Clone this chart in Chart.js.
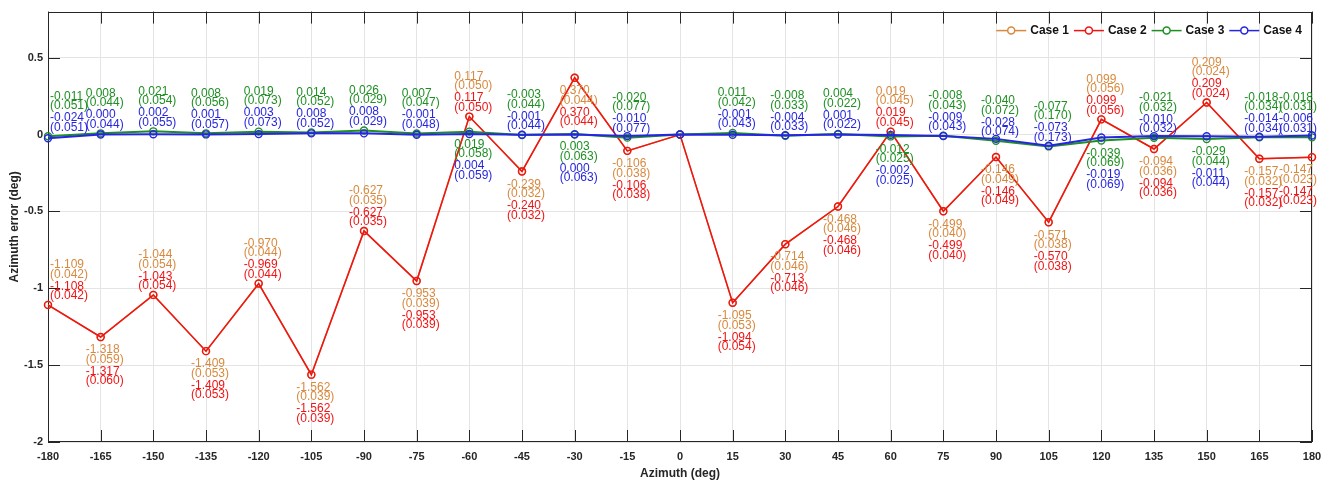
<!DOCTYPE html>
<html><head><meta charset="utf-8">
<script src="https://cdn.jsdelivr.net/npm/chart.js@4/dist/chart.umd.min.js"></script>
<style>html,body{margin:0;padding:0;background:#fff;}</style>
</head><body>
<canvas id="c" width="1336" height="485"></canvas>
<script>
const azimuth = [-180,-165,-150,-135,-120,-105,-90,-75,-60,-45,-30,-15,0,15,30,45,60,75,90,105,120,135,150,165,180];
const case1Mean = [-1.109,-1.318,-1.044,-1.409,-0.970,-1.562,-0.627,-0.953,0.117,-0.239,0.370,-0.106,0,-1.095,-0.714,-0.468,0.019,-0.499,-0.146,-0.571,0.099,-0.094,0.209,-0.157,-0.147];
const case1Std  = [0.042,0.059,0.054,0.053,0.044,0.039,0.035,0.039,0.050,0.032,0.044,0.038,null,0.053,0.046,0.046,0.045,0.040,0.049,0.038,0.056,0.036,0.024,0.032,0.023];
const case2Mean = [-1.108,-1.317,-1.043,-1.409,-0.969,-1.562,-0.627,-0.953,0.117,-0.240,0.370,-0.106,0,-1.094,-0.713,-0.468,0.019,-0.499,-0.146,-0.570,0.099,-0.094,0.209,-0.157,-0.147];
const case2Std  = [0.042,0.060,0.054,0.053,0.044,0.039,0.035,0.039,0.050,0.032,0.044,0.038,null,0.054,0.046,0.046,0.045,0.040,0.049,0.038,0.056,0.036,0.024,0.032,0.023];
const case3Mean = [-0.011,0.008,0.021,0.008,0.019,0.014,0.026,0.007,0.019,-0.003,0.003,-0.020,0,0.011,-0.008,0.004,-0.012,-0.008,-0.040,-0.077,-0.039,-0.021,-0.029,-0.018,-0.018];
const case3Std  = [0.051,0.044,0.054,0.056,0.073,0.052,0.029,0.047,0.058,0.044,0.063,0.077,null,0.042,0.033,0.022,0.025,0.043,0.072,0.170,0.069,0.032,0.044,0.034,0.031];
const case4Mean = [-0.024,0.000,0.002,0.001,0.003,0.008,0.008,-0.001,0.004,-0.001,0.000,-0.010,0,-0.001,-0.004,0.001,-0.002,-0.009,-0.028,-0.073,-0.019,-0.010,-0.011,-0.014,-0.006];
const case4Std  = [0.051,0.044,0.055,0.057,0.073,0.052,0.029,0.048,0.059,0.044,0.063,0.077,null,0.043,0.033,0.022,0.025,0.043,0.074,0.173,0.069,0.032,0.044,0.034,0.031];
const seriesNames = ['Case 1','Case 2','Case 3','Case 4'];
const yTicks = [-2,-1.5,-1,-0.5,0,0.5];

// label placement (1 = above the point, -1 = below, 0 = none)
const pairSide = [1,-1,1,-1,1,-1,1,-1,1,-1,-1,-1,0,-1,-1,-1,1,-1,-1,-1,1,-1,1,-1,-1];
const lowSide  = [1,1,1,1,1,1,1,1,-1,1,-1,1,0,1,1,1,-1,1,1,1,-1,1,-1,1,1];

const colors = ['#D8893E','#F01414','#1F8F24','#2626E0'];
const FONT = '"Liberation Sans", Arial, Helvetica, sans-serif';
const AX = '#262626';

const frame = {
  id:'frame',
  beforeDatasetsDraw(chart){
    const {ctx, chartArea:a, scales:{x,y}} = chart;
    ctx.save();
    ctx.strokeStyle = AX; ctx.lineWidth = 1;
    const tl = 12;
    ctx.beginPath();
    x.ticks.forEach(t=>{
      const px = Math.round(x.getPixelForValue(t.value))+0.5;
      ctx.moveTo(px,a.bottom); ctx.lineTo(px,a.bottom-tl);
      ctx.moveTo(px,a.top); ctx.lineTo(px,a.top+tl);
    });
    y.ticks.forEach(t=>{
      const py = Math.round(y.getPixelForValue(t.value))+0.5;
      ctx.moveTo(a.left,py); ctx.lineTo(a.left+tl,py);
      ctx.moveTo(a.right,py); ctx.lineTo(a.right-tl,py);
    });
    ctx.stroke();
    ctx.strokeRect(Math.round(a.left)+0.5, Math.round(a.top)+0.5, Math.round(a.width)-1, Math.round(a.height)-1);
    ctx.restore();
  }
};

const legendBox = {
  id:'legendBox',
  afterDatasetsDraw(chart){
    const {ctx, chartArea:a} = chart;
    ctx.save();
    ctx.font = 'bold 12px ' + FONT;
    ctx.textBaseline = 'middle'; ctx.textAlign = 'left';
    const yc = a.top + 19;
    let xr = a.right - 10;
    const ds = chart.data.datasets;
    for (let k = ds.length - 1; k >= 0; k--) {
      const w = ctx.measureText(ds[k].label).width;
      const tx = xr - w;
      const le = tx - 4, ls = le - 30;
      ctx.strokeStyle = ds[k].borderColor; ctx.lineWidth = 1.5;
      ctx.beginPath(); ctx.moveTo(ls, yc); ctx.lineTo(le, yc); ctx.stroke();
      ctx.beginPath(); ctx.arc((ls+le)/2, yc, 3.5, 0, Math.PI*2); ctx.fillStyle = '#fff'; ctx.fill(); ctx.stroke();
      ctx.fillStyle = '#111';
      ctx.fillText(ds[k].label, tx, yc);
      xr = ls - 5;
    }
    ctx.restore();
  }
};

const pointLabels = {
  id:'pointLabels',
  afterDatasetsDraw(chart){
    const {ctx, chartArea:a, scales:{x,y}} = chart;
    ctx.save();
    ctx.font = '12px ' + FONT;
    ctx.textBaseline = 'middle'; ctx.textAlign = 'left';
    const offs = [0, 9.5, 21.5, 31];
    const group = (i, anchor, side, items) => {
      if (!side) return;
      const px = x.getPixelForValue(azimuth[i]);
      const py = y.getPixelForValue(anchor);
      const w = Math.max(...items.map(t=>ctx.measureText(t[0]).width));
      let left = px - 15;
      if (left < a.left + 2) left = a.left + 2;
      if (left + w > a.right + 5) left = a.right + 5 - w;
      const base = side > 0 ? py - 40 : py + 13;
      items.forEach((t,k)=>{ ctx.fillStyle = t[1]; ctx.fillText(t[0], left, base + offs[k]); });
    };
    azimuth.forEach((az,i)=>{
      if (case2Std[i] == null) return;
      group(i, case2Mean[i], pairSide[i], [
        [case1Mean[i].toFixed(3), colors[0]], ['('+case1Std[i].toFixed(3)+')', colors[0]],
        [case2Mean[i].toFixed(3), colors[1]], ['('+case2Std[i].toFixed(3)+')', colors[1]]]);
      group(i, case3Mean[i], lowSide[i], [
        [case3Mean[i].toFixed(3), colors[2]], ['('+case3Std[i].toFixed(3)+')', colors[2]],
        [case4Mean[i].toFixed(3), colors[3]], ['('+case4Std[i].toFixed(3)+')', colors[3]]]);
    });
    ctx.restore();
  }
};

const means = [case1Mean, case2Mean, case3Mean, case4Mean];
const datasets = means.map((m,k)=>({
  label: seriesNames[k],
  data: azimuth.map((az,i)=>({x:az, y:m[i]})),
  borderColor: colors[k],
  backgroundColor: 'rgba(0,0,0,0)',
  borderWidth: k < 2 ? 1.5 : 2,
  pointRadius: 3.5,
  pointBorderWidth: 1.4,
  pointBackgroundColor: 'rgba(0,0,0,0)',
  pointBorderColor: colors[k],
  tension: 0,
  clip: false,
  order: 4 - k
}));

new Chart(document.getElementById('c'), {
  type: 'line',
  data: { datasets },
  options: {
    responsive: false,
    animation: false,
    layout: { padding: { left: 0, right: 24, top: 8, bottom: 0 } },
    plugins: {
      tooltip: { enabled: false },
      legend: { display: false }
    },
    scales: {
      x: {
        type: 'linear', min: -180, max: 180,
        afterFit: s => { s.height = 43; },
        ticks: { stepSize: 15, padding: 8, color: AX, font: { family: FONT, size: 11, weight: 'bold' }, callback: v => String(v), maxRotation: 0, autoSkip: false },
        grid: { color: '#e4e4e4', drawTicks: false },
        border: { display: false },
        title: { display: true, text: 'Azimuth (deg)', color: AX, font: { family: FONT, size: 12, weight: 'bold' }, padding: { top: 0, bottom: 4 } }
      },
      y: {
        min: -2, max: 0.8,
        afterFit: s => { s.width = 48; },
        afterBuildTicks: s => { s.ticks = yTicks.map(v=>({value:v})); },
        ticks: { padding: 5, color: AX, font: { family: FONT, size: 11, weight: 'bold' }, callback: v => String(+Number(v).toFixed(2)) },
        grid: { color: '#e4e4e4', drawTicks: false },
        border: { display: false },
        title: { display: true, text: 'Azimuth error (deg)', color: AX, font: { family: FONT, size: 12, weight: 'bold' }, padding: { top: 7, bottom: 0 } }
      }
    }
  },
  plugins: [frame, legendBox, pointLabels]
});
</script>
</body></html>
